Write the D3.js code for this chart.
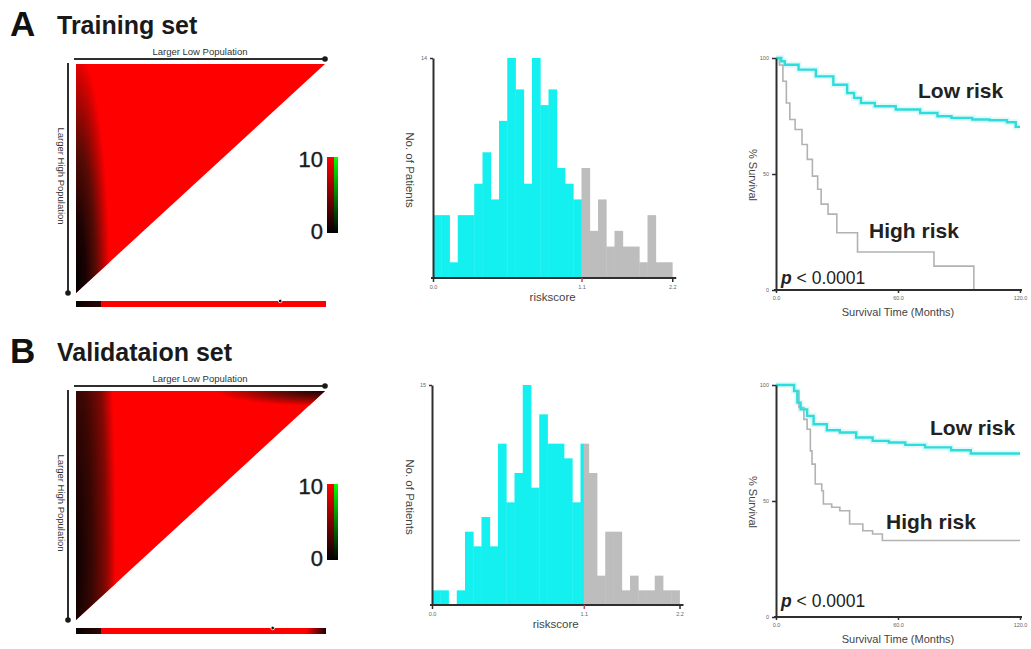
<!DOCTYPE html>
<html><head><meta charset="utf-8">
<script src="https://cdn.jsdelivr.net/npm/d3@7"></script>
<style>body{margin:0;background:#fff} svg{display:block}</style>
</head><body><svg id="c" width="1031" height="649"></svg>
<script>
// ---------------- data ----------------
const panelLetters = ["A", "B"];
const panelTitles = ["Training set", "Validataion set"];
const heatTopLabel = "Larger Low Population";
const heatSideLabel = "Larger High Population";
const colorbarLabels = ["10", "0"];
const colorbarValues = [10, 0];

// heatmap shading (value 0..10 at normalized gradient offsets)
const heatA_edgeOffsets = [0, 0.3, 0.6, 1];
const heatA_edgeValues  = [0, 1.2, 4, 10];
const heatB_edgeOffsets = [0, 0.4, 0.75, 1];
const heatB_edgeValues  = [0.5, 2.5, 5.5, 10];
const heatB_cornerOffsets = [0, 0.5, 1];
const heatB_cornerValues  = [1, 5, 10];
const barA_offsets = [0, 0.1, 0.1, 1];
const barA_values  = [0.3, 2, 10, 10];
const barB_offsets = [0, 0.1, 0.1, 0.92, 1];
const barB_values  = [0.3, 2, 10, 10, 1.2];
const barMarkers = [0.82, 0.79];

// histograms (counts per riskscore bin)
const histA_counts = [4,4,1,4,4,6,8,5,10,14,12,6,14,11,12,7,6,5, 7,3,5,2,3,2,2,1,4,1,1];
const histA_cut = 18;
const histA_tickLabels = ["0.0", "1.1", "2.2"];
const histB_counts = [1,1,0,1,5,4,6,4,11,7,9,15,8,13,11,11,10,7,11,9,2,5,5,1,2,1,1,2,1,1];
const histB_cut = 18.4;
const histB_tickLabels = ["0.0", "1.1", "2.2"];

// Kaplan-Meier curves (months, % survival)
const kmA_low_t  = [0, 2.6, 4.3, 11.1, 19.6, 28.2, 35, 38.4, 41.8, 48.6, 58.9, 70.9, 79.4, 86.3, 96.5, 105, 113.6, 117.9, 120];
const kmA_low_s  = [100, 98.6, 97.1, 95, 92.1, 88.5, 84.9, 82.8, 80.6, 79.2, 77.8, 76.3, 74.9, 74.2, 73.5, 73.2, 72.3, 70.3, 70.3];
const kmA_high_t = [0, 1.7, 3.4, 5.1, 6.8, 9.4, 12.8, 15.4, 17.9, 20.5, 22.2, 25.6, 29.9, 40.1, 77.7, 97.3];
const kmA_high_s = [100, 97, 90, 80.6, 73.5, 69.2, 62.7, 56.3, 49.1, 43.4, 37, 32.7, 24.7, 16.4, 10.3, 0];
const kmB_low_t  = [0, 8.9, 10.5, 12.1, 15.3, 18.5, 25, 31.4, 39.4, 47.5, 55.5, 63.6, 73.3, 86.1, 95.8, 120];
const kmB_low_s  = [100, 97.4, 92.4, 89.5, 86.7, 83.1, 80.5, 79.5, 77.4, 75.9, 75.2, 74.2, 73.1, 71.9, 70.5, 70.5];
const kmB_high_t = [0, 8.9, 11.3, 13.7, 15.3, 16.9, 17.7, 19.3, 22.5, 23.3, 27.4, 31.4, 36.2, 42.7, 47.5, 52.3, 120];
const kmB_high_s = [100, 97.4, 90.3, 85.2, 80.9, 71.6, 65.9, 57.3, 54.4, 48.7, 47.3, 45.8, 40.1, 37.2, 35.8, 33, 33];
const kmTicksX = [0, 60, 120];
const kmTickLabelsX = ["0.0", "60.0", "120.0"];
const kmTicksY = [0, 50, 100];
const groupLabels = ["Low risk", "High risk"];
const pText = "< 0.0001";

// ---------------- drawing ----------------
const FONT = "'Liberation Sans', Arial, Helvetica, sans-serif";
const svg = d3.select("#c");
const defs = svg.append("defs");
const heatColor = d3.scaleLinear().domain([0, 4, 10]).range(["#000000", "#5a0b05", "#ff0000"]);
const greenColor = d3.scaleLinear().domain([0, 10]).range(["#000000", "#00ff00"]);
const CYAN = "#14f0f0", GREY = "#bdbdbd", AXIS = "#2e2e2e";
const PANEL_DY = 327;

function gradient(id, type, offsets, values, scale, attrs) {
  const gr = defs.append(type).attr("id", id);
  Object.entries(attrs || {}).forEach(([k, v]) => gr.attr(k, v));
  offsets.forEach((o, i) => gr.append("stop").attr("offset", o).attr("stop-color", scale(values[i])));
  return "url(#" + id + ")";
}

function titles(i) {
  const dy = i * PANEL_DY;
  svg.append("text").attr("x", 10).attr("y", 36 + dy).attr("font-family", FONT)
    .attr("font-weight", "bold").attr("font-size", 35).attr("fill", "#111").text(panelLetters[i]);
  svg.append("text").attr("x", 57).attr("y", 34 + dy).attr("font-family", FONT)
    .attr("font-weight", "bold").attr("font-size", 25).attr("fill", "#1a1a1a").text(panelTitles[i]);
}

function heatPanel(i) {
  const dy = i * PANEL_DY;
  const g = svg.append("g").attr("transform", `translate(0,${dy})`);
  const L = 76, R = 325, T = 64, B = 293;
  const tri = `${L},${T} ${R},${T} ${L},${B}`;
  defs.append("clipPath").attr("id", "tri" + i).append("polygon").attr("points", tri);
  g.append("polygon").attr("points", tri).attr("fill", heatColor(10));
  const cg = g.append("g").attr("clip-path", `url(#tri${i})`);
  if (i === 0) {
    const f = gradient("edge0", "radialGradient", heatA_edgeOffsets, heatA_edgeValues, heatColor);
    cg.append("ellipse").attr("cx", L).attr("cy", B).attr("rx", 34).attr("ry", 245).attr("fill", f);
  } else {
    const f = gradient("edge1", "radialGradient", heatB_edgeOffsets, heatB_edgeValues, heatColor);
    cg.append("ellipse").attr("cx", L).attr("cy", B - 60).attr("rx", 40).attr("ry", 420).attr("fill", f);
    const f2 = gradient("corner1", "radialGradient", heatB_cornerOffsets, heatB_cornerValues, heatColor);
    cg.append("ellipse").attr("cx", R).attr("cy", T).attr("rx", 110).attr("ry", 15).attr("fill", f2);
  }
  // axes arrows
  g.append("line").attr("x1", 74).attr("x2", R).attr("y1", 59).attr("y2", 59)
    .attr("stroke", AXIS).attr("stroke-width", 2);
  g.append("circle").attr("cx", R).attr("cy", 59).attr("r", 2.8).attr("fill", "#1a1a1a");
  g.append("line").attr("x1", 68).attr("x2", 68).attr("y1", 63).attr("y2", B)
    .attr("stroke", AXIS).attr("stroke-width", 2);
  g.append("circle").attr("cx", 68).attr("cy", B).attr("r", 2.8).attr("fill", "#1a1a1a");
  g.append("text").attr("x", 200).attr("y", 55).attr("text-anchor", "middle")
    .attr("font-family", FONT).attr("font-size", 9.5).attr("fill", "#333").text(heatTopLabel);
  g.append("text").attr("transform", `translate(58,${176}) rotate(90)`).attr("text-anchor", "middle")
    .attr("font-family", FONT).attr("font-size", 9.5).attr("fill", "#333").text(heatSideLabel);
  // bottom bar
  const bf = gradient("bar" + i, "linearGradient", i === 0 ? barA_offsets : barB_offsets,
    i === 0 ? barA_values : barB_values, heatColor, {x1: 0, y1: 0, x2: 1, y2: 0});
  g.append("rect").attr("x", L).attr("y", 301).attr("width", R - L + 1).attr("height", 6).attr("fill", bf);
  g.append("circle").attr("cx", L + barMarkers[i] * (R - L)).attr("cy", 301).attr("r", 1.8)
    .attr("fill", "#111").attr("stroke", "#fff").attr("stroke-width", 0.8);
  // colorbar
  const cbTop = 157, cbBot = 233;
  const cy = d3.scaleLinear().domain([0, 10]).range([cbBot, cbTop]);
  const rf = gradient("cbr" + i, "linearGradient", [0, 1], colorbarValues, heatColor, {x1: 0, y1: 0, x2: 0, y2: 1});
  const gf = gradient("cbg" + i, "linearGradient", [0, 1], colorbarValues, greenColor, {x1: 0, y1: 0, x2: 0, y2: 1});
  g.append("rect").attr("x", 327).attr("y", cy(10)).attr("width", 7).attr("height", cy(0) - cy(10)).attr("fill", rf);
  g.append("rect").attr("x", 334).attr("y", cy(10)).attr("width", 4).attr("height", cy(0) - cy(10)).attr("fill", gf);
  colorbarValues.forEach((v, k) => {
    g.append("text").attr("x", 323).attr("y", cy(v) + (k === 0 ? 10 : 6)).attr("text-anchor", "end")
      .attr("font-family", FONT).attr("font-size", 22).attr("fill", "#1a1a1a")
      .attr("stroke", "#1a1a1a").attr("stroke-width", 0.4).text(colorbarLabels[k]);
  });
}

function histPanel(i) {
  const dy = i * PANEL_DY;
  const counts = i === 0 ? histA_counts : histB_counts;
  const cut = i === 0 ? histA_cut : histB_cut;
  const labels = i === 0 ? histA_tickLabels : histB_tickLabels;
  const g = svg.append("g").attr("transform", `translate(0,${dy})`);
  const x0 = i === 0 ? 433 : 432, bw = 8.25;
  const x = d3.scaleLinear().domain([0, counts.length]).range([x0, x0 + counts.length * bw]);
  const y = d3.scaleLinear().domain([0, d3.max(counts)]).range([278, 58]);
  const segs = [];
  counts.forEach((c, k) => {
    const a = k, b = k + 1;
    if (b <= cut) segs.push({a, b, c, col: CYAN});
    else if (a >= cut) segs.push({a, b, c, col: GREY});
    else { segs.push({a, b: cut, c, col: CYAN}); segs.push({a: cut, b, c, col: GREY}); }
  });
  g.selectAll("rect.bar").data(segs).join("rect").attr("class", "bar")
    .attr("x", d => x(d.a)).attr("width", d => x(d.b) - x(d.a) + 0.4)
    .attr("y", d => y(d.c)).attr("height", d => y(0) - y(d.c)).attr("fill", d => d.col);
  const xa = g.append("g").attr("transform", `translate(0,${y(0)})`)
    .call(d3.axisBottom(x).tickValues([0, cut, counts.length]).tickSize(4).tickSizeOuter(0)
      .tickFormat((d, k) => labels[k]));
  const ya = g.append("g").attr("transform", `translate(${x0},0)`)
    .call(d3.axisLeft(y).tickValues([d3.max(counts)]).tickSize(3).tickSizeOuter(0));
  [xa, ya].forEach(a => {
    a.select(".domain").attr("stroke", AXIS).attr("stroke-width", 2);
    a.selectAll(".tick line").attr("stroke", AXIS).attr("stroke-width", 1.5);
    a.selectAll("text").attr("font-family", FONT).attr("font-size", 5.5).attr("fill", "#666");
  });
  xa.select(".domain").attr("d", `M${x0 - 2},0H${x(counts.length) + 4}`);
  xa.selectAll(".tick line").filter(d => d === cut).attr("stroke", "#d04060");
  g.append("text").attr("x", (x0 + x(counts.length)) / 2).attr("y", 301).attr("text-anchor", "middle")
    .attr("font-family", FONT).attr("font-size", 11.5).attr("fill", "#444").text("riskscore");
  g.append("text").attr("transform", `translate(406,${170}) rotate(90)`).attr("text-anchor", "middle")
    .attr("font-family", FONT).attr("font-size", 11.5).attr("fill", "#444").text("No. of Patients");
}

function kmPanel(i) {
  const dy = i * PANEL_DY;
  const g = svg.append("g").attr("transform", `translate(0,${dy})`);
  const x = d3.scaleLinear().domain([0, 120]).range([776, 1020]);
  const y = d3.scaleLinear().domain([0, 100]).range([290, 58]);
  const lowT = i === 0 ? kmA_low_t : kmB_low_t, lowS = i === 0 ? kmA_low_s : kmB_low_s;
  const hiT = i === 0 ? kmA_high_t : kmB_high_t, hiS = i === 0 ? kmA_high_s : kmB_high_s;
  const line = d3.line().x(d => x(d[0])).y(d => y(d[1])).curve(d3.curveStepAfter);
  const low = lowT.map((t, k) => [t, lowS[k]]);
  const hi = hiT.map((t, k) => [t, hiS[k]]);
  g.append("path").attr("d", line(low)).attr("fill", "none").attr("stroke", "#c8f6f6").attr("stroke-width", 6).attr("opacity", 0.6);
  g.append("path").attr("d", line(hi)).attr("fill", "none").attr("stroke", "#b2b2b2").attr("stroke-width", 1.6);
  g.append("path").attr("d", line(low)).attr("fill", "none").attr("stroke", "#2edcdc").attr("stroke-width", 2.4);
  const xa = g.append("g").attr("transform", `translate(0,${y(0)})`)
    .call(d3.axisBottom(x).tickValues(kmTicksX).tickSize(3).tickSizeOuter(0).tickFormat((d, k) => kmTickLabelsX[k]));
  const ya = g.append("g").attr("transform", `translate(${x(0)},0)`)
    .call(d3.axisLeft(y).tickValues(kmTicksY).tickSize(4).tickSizeOuter(0));
  [xa, ya].forEach(a => {
    a.select(".domain").attr("stroke", AXIS).attr("stroke-width", 2);
    a.selectAll(".tick line").attr("stroke", AXIS).attr("stroke-width", 1.5);
    a.selectAll("text").attr("font-family", FONT).attr("font-size", 5.5).attr("fill", "#666");
  });
  xa.select(".domain").attr("d", `M${x(0) - 2},0H${x(120) + 2}`);
  g.append("text").attr("x", (x(0) + x(120)) / 2).attr("y", 316).attr("text-anchor", "middle")
    .attr("font-family", FONT).attr("font-size", 11).attr("fill", "#444").text("Survival Time (Months)");
  g.append("text").attr("transform", `translate(749,${175}) rotate(90)`).attr("text-anchor", "middle")
    .attr("font-family", FONT).attr("font-size", 11).attr("fill", "#444").text("% Survival");
  const lowPos = i === 0 ? [918, 98] : [930, 108];
  const hiPos = i === 0 ? [869, 238] : [886, 202];
  const pPos = i === 0 ? [781, 284] : [781, 280];
  g.append("text").attr("x", lowPos[0]).attr("y", lowPos[1]).attr("font-family", FONT).attr("font-weight", "bold")
    .attr("font-size", 21).attr("fill", "#222").text(groupLabels[0]);
  g.append("text").attr("x", hiPos[0]).attr("y", hiPos[1]).attr("font-family", FONT).attr("font-weight", "bold")
    .attr("font-size", 21).attr("fill", "#222").text(groupLabels[1]);
  const pt = g.append("text").attr("x", pPos[0]).attr("y", pPos[1]).attr("font-family", FONT)
    .attr("font-size", 17.5).attr("fill", "#222");
  pt.append("tspan").attr("font-weight", "bold").attr("font-style", "italic").text("p");
  pt.append("tspan").text(" " + pText);
}

[0, 1].forEach(i => { titles(i); heatPanel(i); histPanel(i); kmPanel(i); });
</script></body></html>
